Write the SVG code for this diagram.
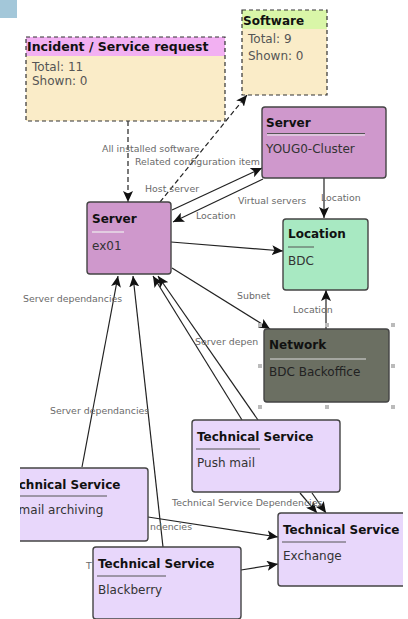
<svg xmlns="http://www.w3.org/2000/svg" width="408" height="619" viewBox="0 0 408 619">
<style>
.node{stroke:#444;stroke-width:1.4}
.srv{fill:#cf98cc}
.ts{fill:#e8d7fb}
.loc{fill:#a8e9c2}
.net{fill:#6b6f62}
.cnt{fill:none;stroke:#333;stroke-width:1.2;stroke-dasharray:4,3}
.t{font-family:"DejaVu Sans",Verdana,sans-serif;font-size:12px;font-weight:bold;fill:#111}
.b{font-family:"DejaVu Sans",Verdana,sans-serif;font-size:12px;fill:#333}
.cb{font-family:"DejaVu Sans",Verdana,sans-serif;font-size:12px;fill:#555}
.lbl{font-family:"DejaVu Sans",Verdana,sans-serif;font-size:9.4px;fill:#6a6a6a}
.e{stroke:#222;stroke-width:1.2;fill:none;marker-end:url(#arr)}
.d{stroke-dasharray:5,3}
.sepd{stroke:#555;stroke-width:1}
.sepl{stroke:#eee;stroke-width:1.2}
.h{fill:#bbb}
</style>
<defs>
<marker id="arr" markerUnits="userSpaceOnUse" markerWidth="12" markerHeight="10" refX="11" refY="5" orient="auto">
<path d="M0,0 L11,5 L0,10 L2.5,5 z" fill="#111"/>
</marker>
<clipPath id="view"><rect x="20" y="0" width="383" height="619"/></clipPath>
</defs>
<rect x="0" y="0" width="17" height="18" fill="#a3c7d9"/>
<g clip-path="url(#view)">
<g id="connectors">
<path class="e d" d="M128,121 L128,202"/>
<path class="e d" d="M160,202 L247,95"/>
<path class="e" d="M172,210 L262,168"/>
<path class="e" d="M263,179 L173,222"/>
<path class="e" d="M324,178 L324,218"/>
<path class="e" d="M171,242 L283,251"/>
<path class="e" d="M172,268 L270,329"/>
<path class="e" d="M326,329 L326,290"/>
<path class="e" d="M82,467 L118,276"/>
<path class="e" d="M163,547 L133,276"/>
<path class="e" d="M242,420 L153,276"/>
<path class="e" d="M258,420 L158,276"/>
<path class="e" d="M300,493 L317,513"/>
<path class="e" d="M312,493 L326,513"/>
<path class="e" d="M148,517 L278,537"/>
<path class="e" d="M241,570 L278,564"/>
<text class="lbl" x="102" y="152">All installed software</text>
<text class="lbl" x="135" y="165">Related configuration item</text>
<text class="lbl" x="145" y="192">Host server</text>
<text class="lbl" x="238" y="204">Virtual servers</text>
<text class="lbl" x="196" y="219">Location</text>
<text class="lbl" x="321" y="201">Location</text>
<text class="lbl" x="237" y="299">Subnet</text>
<text class="lbl" x="293" y="313">Location</text>
<text class="lbl" x="23" y="302">Server dependancies</text>
<text class="lbl" x="50" y="414">Server dependancies</text>
<text class="lbl" x="195" y="345">Server depen</text>
<text class="lbl" x="172" y="506">Technical Service Dependencies</text>
<text class="lbl" x="150" y="530">ndencies</text>
<text class="lbl" x="86" y="569">T</text>
</g>
<g id="incident">
<rect x="26" y="37" width="199" height="84" fill="#faecc8"/>
<rect x="26" y="37" width="199" height="19" fill="#f2b0f2"/>
<rect class="cnt" x="26" y="37" width="199" height="84"/>
<text class="t" x="27" y="51" style="font-size:12.5px">Incident / Service request</text>
<text class="cb" x="32" y="71">Total: 11</text>
<text class="cb" x="32" y="85">Shown: 0</text>
</g>
<g id="software">
<rect x="242" y="10" width="85" height="85" fill="#faecc8"/>
<rect x="242" y="10" width="85" height="19" fill="#d9f6a8"/>
<rect class="cnt" x="242" y="10" width="85" height="85"/>
<text class="t" x="243" y="25">Software</text>
<text class="cb" x="248" y="43">Total: 9</text>
<text class="cb" x="248" y="60">Shown: 0</text>
</g>
<g id="server-youg0">
<rect class="node srv" x="262" y="107" width="124" height="71" rx="3"/>
<text class="t" x="266" y="127">Server</text>
<line class="sepd" x1="267" y1="133.5" x2="365" y2="133.5"/>
<line class="sepl" x1="267" y1="135" x2="365" y2="135"/>
<text class="b" x="266" y="153">YOUG0-Cluster</text>
</g>
<g id="server-ex01">
<rect class="node srv" x="87" y="202" width="84" height="72" rx="3"/>
<text class="t" x="92" y="223">Server</text>
<line class="sepl" x1="92" y1="232" x2="124" y2="232"/>
<text class="b" x="92" y="250">ex01</text>
</g>
<g id="location">
<rect class="node loc" x="283" y="219" width="85" height="71" rx="3"/>
<text class="t" x="288" y="238">Location</text>
<line class="sepd" x1="288" y1="247" x2="314" y2="247"/>
<text class="b" x="288" y="265">BDC</text>
</g>
<g id="network">
<rect class="node net" x="264" y="329" width="125" height="73" rx="3"/>
<text class="t" x="269" y="349">Network</text>
<line x1="270" y1="359" x2="366" y2="359" stroke="#ddd" stroke-width="1.2"/>
<text class="b" x="269" y="376" style="fill:#222">BDC Backoffice</text>
<rect class="h" x="258" y="323" width="4" height="4"/>
<rect class="h" x="325" y="323" width="4" height="4"/>
<rect class="h" x="391" y="323" width="4" height="4"/>
<rect class="h" x="258" y="364" width="4" height="4"/>
<rect class="h" x="391" y="364" width="4" height="4"/>
<rect class="h" x="258" y="405" width="4" height="4"/>
<rect class="h" x="325" y="405" width="4" height="4"/>
<rect class="h" x="391" y="405" width="4" height="4"/>
</g>
<g id="ts-pushmail">
<rect class="node ts" x="192" y="420" width="148" height="72" rx="3"/>
<text class="t" x="197" y="441">Technical Service</text>
<line class="sepd" x1="196" y1="449" x2="260" y2="449"/>
<text class="b" x="197" y="467">Push mail</text>
</g>
<g id="ts-emailarchiving">
<rect class="node ts" x="2" y="468" width="146" height="73" rx="3"/>
<text class="t" x="4" y="489">Technical Service</text>
<line class="sepd" x1="4" y1="496" x2="107" y2="496"/>
<text class="b" x="11" y="514">Email archiving</text>
</g>
<g id="ts-exchange">
<rect class="node ts" x="278" y="513" width="148" height="73" rx="3"/>
<text class="t" x="283" y="534">Technical Service</text>
<line class="sepd" x1="282" y1="542" x2="346" y2="542"/>
<text class="b" x="283" y="560">Exchange</text>
</g>
<g id="ts-blackberry">
<rect class="node ts" x="93" y="547" width="148" height="72" rx="3"/>
<text class="t" x="98" y="568">Technical Service</text>
<line class="sepd" x1="97" y1="576" x2="166" y2="576"/>
<text class="b" x="98" y="594">Blackberry</text>
</g>
</g>
</svg>
